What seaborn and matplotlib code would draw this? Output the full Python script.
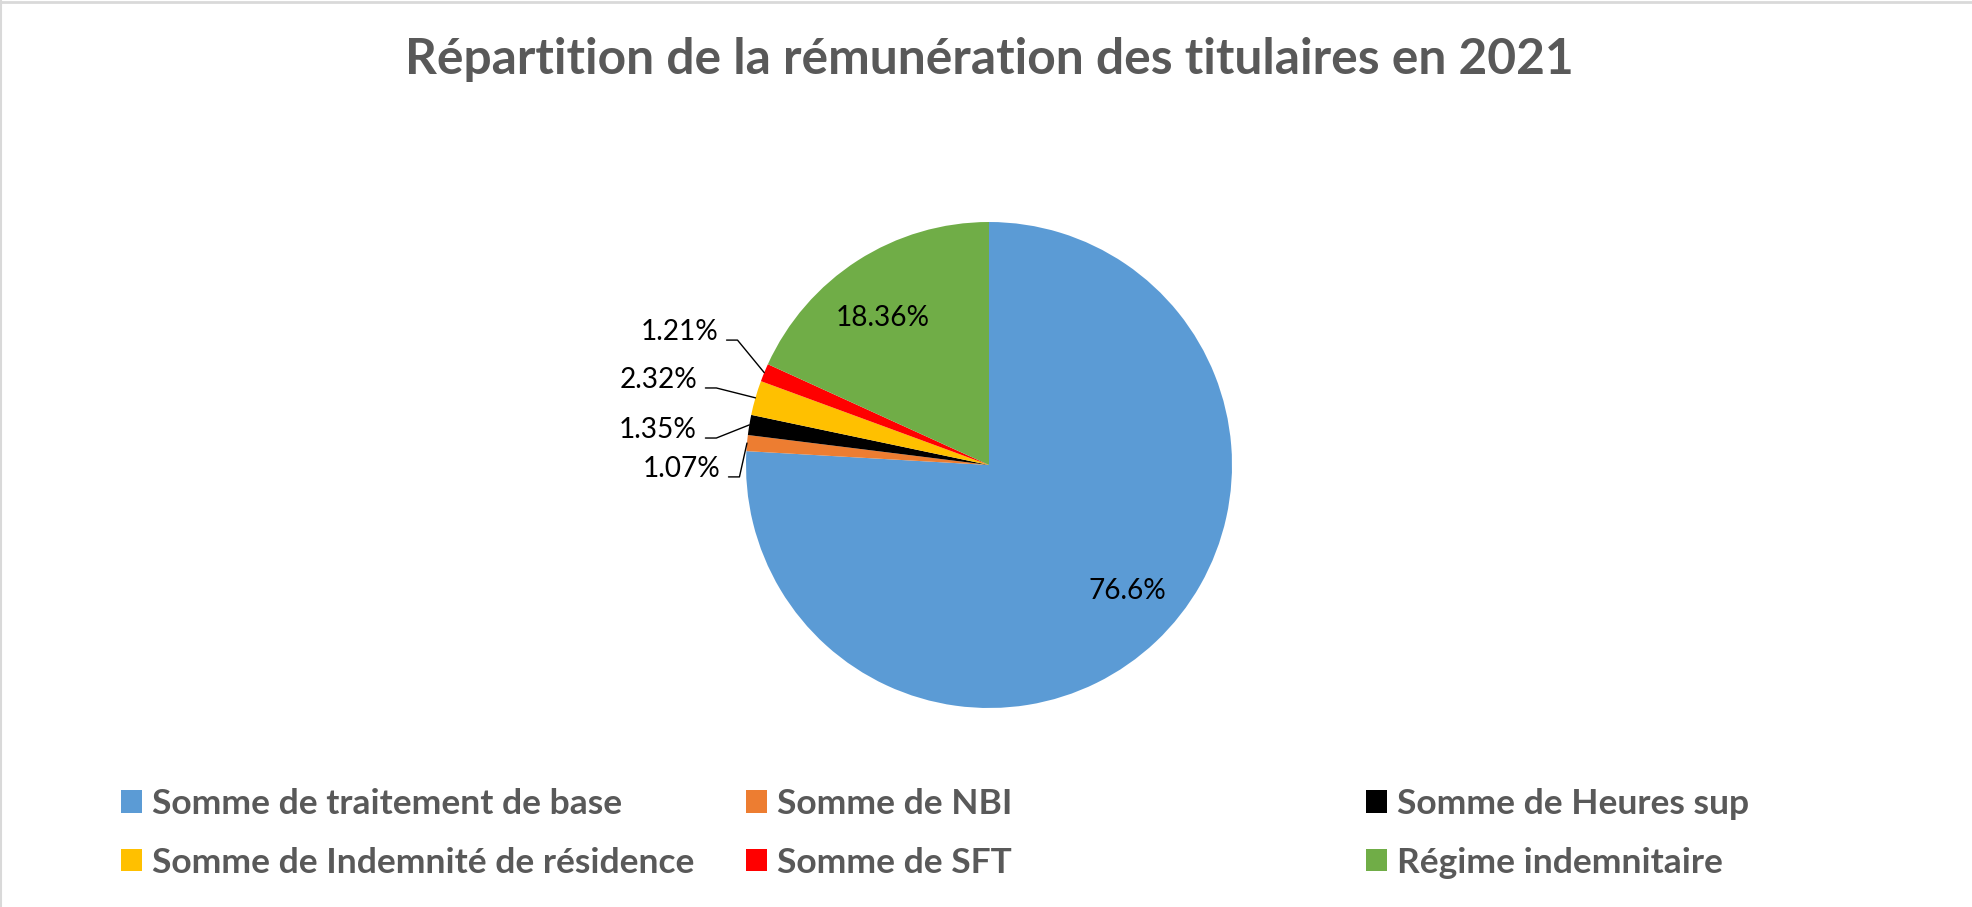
import matplotlib
matplotlib.use("Agg")
import matplotlib.pyplot as plt
import seaborn as sns
import numpy as np
from matplotlib.patches import Patch
from matplotlib.lines import Line2D

# ---- data ----
categories = ["Somme de traitement de base", "Somme de NBI", "Somme de Heures sup",
              "Somme de Indemnité de résidence", "Somme de SFT", "Régime indemnitaire"]
values = [76.6, 1.07, 1.35, 2.32, 1.21, 18.36]
label_texts = ["76.6%", "1.07%", "1.35%", "2.32%", "1.21%", "18.36%"]
colors = ["#5B9BD5", "#ED7D31", "#000000", "#FFC000", "#FF0000", "#70AD47"]
title = "Répartition de la rémunération des titulaires en 2021"

sns.set_theme(style="white")
plt.rcParams["font.family"] = ["Lato", "DejaVu Sans"]
palette = sns.color_palette(colors)

W, H, DPI = 1972, 907, 100
fig = plt.figure(figsize=(W / DPI, H / DPI), dpi=DPI)
fig.patch.set_facecolor("white")

# pie geometry in pixels
CX, CY, R = 989, 465, 243
ax = fig.add_axes([0, 0, 1, 1])
ax.set_xlim((0 - CX) / R, (W - CX) / R)
ax.set_ylim((CY - H) / R, (CY - 0) / R)
ax.axis("off")

wedges, _ = ax.pie(values, colors=palette, startangle=90, counterclock=False,
                   radius=1.0, center=(0, 0), wedgeprops=dict(linewidth=0),
                   frame=False)
ax.set_xlim((0 - CX) / R, (W - CX) / R)
ax.set_ylim((CY - H) / R, (CY - 0) / R)
ax.set_aspect("auto")

renderer = fig.canvas.get_renderer()

def fit(t, target_px):
    w = t.get_window_extent(renderer).width
    t.set_fontsize(t.get_fontsize() * target_px / w)

# inside labels (layout positions in data units)
inside = {0: (0.568, -0.519), 5: (-0.436, 0.605)}
# outside labels: right edge x, center y
outside = {1: (-1.107, -0.016), 2: (-1.202, 0.144), 3: (-1.202, 0.350), 4: (-1.115, 0.547)}

ref = ax.text(0, 0, "18.36%", fontsize=20, color="black")
fit(ref, 94)
pct_fs = ref.get_fontsize()
ref.remove()

for i, (x, y) in inside.items():
    ax.text(x, y, label_texts[i], ha="center", va="center", fontsize=pct_fs, color="black")

for i, (x, y) in outside.items():
    ax.text(x, y, label_texts[i], ha="right", va="center", fontsize=pct_fs, color="black")
    w = wedges[i]
    mid = np.deg2rad((w.theta1 + w.theta2) / 2)
    ex, ey = np.cos(mid), np.sin(mid)
    x0 = x + 0.035
    yl = y - 0.033
    x1 = x0 + 0.045
    ax.add_line(Line2D([x0, x1, ex], [yl, yl, ey], color="black", lw=1.0))

# title
tt = fig.text(CX / W, 1 - 74 / H, title, ha="center", va="baseline",
              fontsize=36, fontweight="bold", color="#595959")
fit(tt, 1167)

# legends: three columns
tmp = fig.text(0, 0, categories[0], fontsize=22, fontweight="bold")
fit(tmp, 469)
leg_fs = tmp.get_fontsize()
tmp.remove()
fs_px = leg_fs * DPI / 72
hl = 21 / fs_px

cols = [(121, [0, 3]), (746, [1, 4]), (1366, [2, 5])]
for xpx, idx in cols:
    handles = [Patch(facecolor=palette[i], edgecolor="none", label=categories[i]) for i in idx]
    lg = fig.legend(handles=handles, loc="upper left",
                    bbox_to_anchor=(xpx / W, 1 - 788 / H), frameon=False,
                    prop=dict(size=leg_fs, weight="bold"), labelcolor="#595959",
                    handlelength=hl, handleheight=hl, handletextpad=10 / fs_px,
                    borderpad=0, borderaxespad=0, labelspacing=0.75)

# light border on top and left
fig.add_artist(Line2D([0, 1], [1 - 1.5 / H, 1 - 1.5 / H], transform=fig.transFigure,
                      color="#D9D9D9", lw=2))
fig.add_artist(Line2D([1.0 / W, 1.0 / W], [0, 1], transform=fig.transFigure,
                      color="#D9D9D9", lw=1.5))

fig.savefig("out.png", dpi=DPI, facecolor="white")
